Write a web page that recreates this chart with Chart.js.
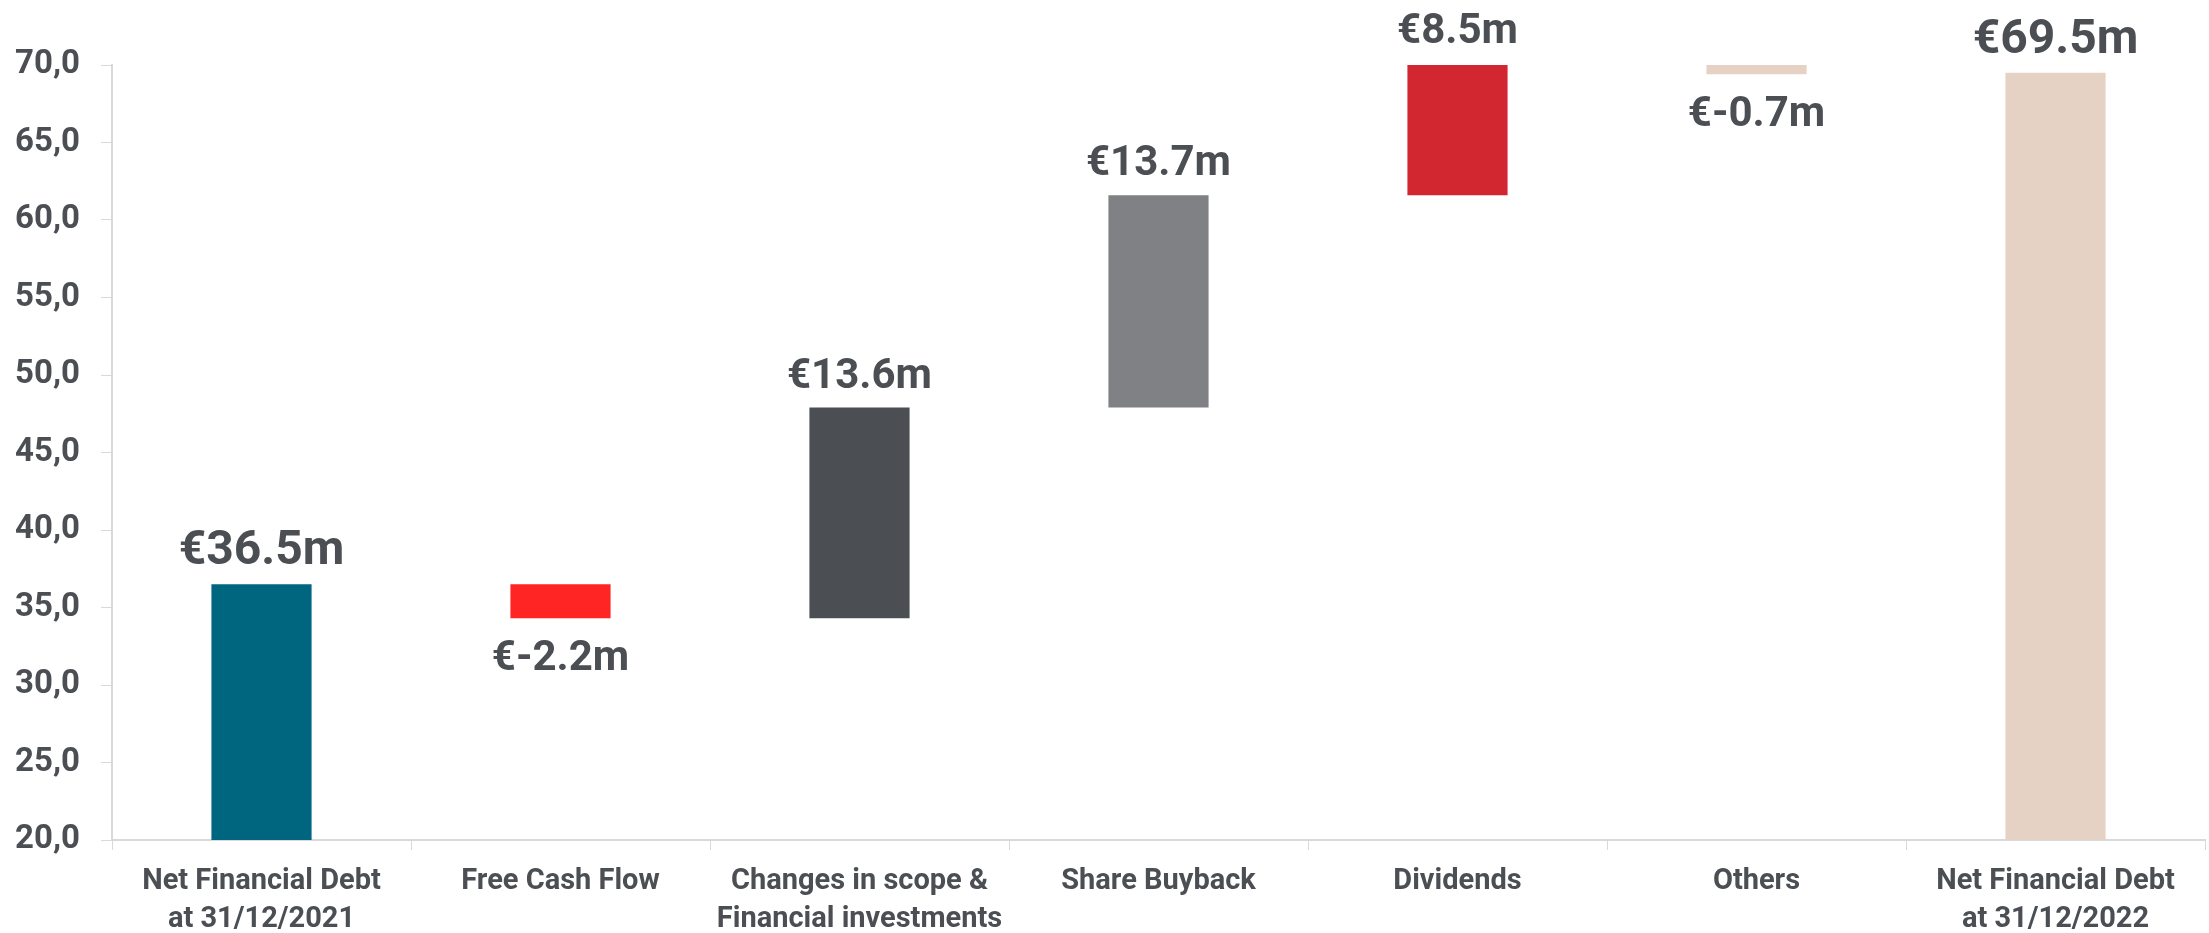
<!DOCTYPE html>
<html>
<head>
<meta charset="utf-8">
<script src="https://cdn.jsdelivr.net/npm/chart.js@4/dist/chart.umd.min.js"></script>
<style>
  html, body { margin: 0; padding: 0; background: #fff; }
  #wrap { width: 2209px; height: 933px; position: relative; }
</style>
</head>
<body>
<div id="wrap"><canvas id="bridge"></canvas></div>
<script>
// kategorier (x-axel)
const categories = [
  ["Net Financial Debt", "at 31/12/2021"],
  "Free Cash Flow",
  ["Changes in scope &", "Financial investments"],
  "Share Buyback",
  "Dividends",
  "Others",
  ["Net Financial Debt", "at 31/12/2022"]
];

// startvärde, förändringar och slutvärde (mEUR)
const openingDebt = 36.5;
const movements = [-2.2, 13.6, 13.7, 8.5, -0.7];
const closingDebt = 69.5;

// y-axelns gränser
const yMin = 20;
const yMax = 70;
const yStep = 5;

const barColors = ["#00657f", "#ff2525", "#4b4f54", "#808184", "#d22630", "#e6d2c4", "#e6d2c4"];
const textColor = "#4b4f54";
const lineColor = "#d9d9d9";

// bygg flytande staplar [låg, hög]
const bridge = () => {
  let out = [[yMin, openingDebt]];
  let level = openingDebt;
  movements.forEach((m) => {
    const next = Math.round((level + m) * 10) / 10;
    out.push([Math.min(level, next), Math.max(level, next)]);
    level = next;
  });
  out.push([yMin, closingDebt]);
  return out;
};

const labelValues = [openingDebt, ...movements, closingDebt];

// plugin som skriver "€xx.xm" över/under staplarna
const valueLabels = {
  id: "valueLabels",
  afterDatasetsDraw(chart) {
    const ctx = chart.ctx;
    const meta = chart.getDatasetMeta(0);
    const yScale = chart.scales.y;
    const last = labelValues.length - 1;
    ctx.save();
    ctx.fillStyle = textColor;
    ctx.textAlign = "center";
    ctx.textBaseline = "alphabetic";
    meta.data.forEach((bar, i) => {
      const v = labelValues[i];
      const isTotal = i === 0 || i === last;
      const size = isTotal ? 48 : 42;
      ctx.font = "bold " + size + "px Roboto";
      const range = chart.data.datasets[0].data[i];
      const text = "€" + v.toFixed(1) + "m";
      if (v >= 0) {
        const top = yScale.getPixelForValue(range[1]);
        ctx.fillText(text, bar.x, top - 20);
      } else {
        const bottom = yScale.getPixelForValue(range[0]);
        ctx.fillText(text, bar.x, bottom + 22 + size * 0.711);
      }
    });
    ctx.restore();
  }
};

const ctx = document.querySelector("#bridge").getContext("2d");

new Chart(ctx, {
  type: "bar",
  data: {
    labels: categories,
    datasets: [
      {
        data: bridge(),
        backgroundColor: barColors,
        borderWidth: 0,
        categoryPercentage: 1,
        barPercentage: 0.335,
      },
    ],
  },
  options: {
    responsive: true,
    maintainAspectRatio: false,
    animation: false,
    layout: { padding: { top: 65, right: 4, left: 0, bottom: 0 } },
    plugins: {
      legend: { display: false },
      tooltip: { enabled: false },
    },
    scales: {
      x: {
        offset: true,
        grid: {
          offset: true,
          drawOnChartArea: false,
          drawTicks: true,
          tickLength: 10,
          color: lineColor,
        },
        border: { color: lineColor, width: 2 },
        ticks: {
          color: textColor,
          padding: 13,
          font: { family: "Roboto", weight: "bold", size: 29, lineHeight: 1.3 },
          maxRotation: 0,
          autoSkip: false,
        },
        afterFit(scale) { scale.height = 93; },
      },
      y: {
        min: yMin,
        max: yMax,
        grid: {
          drawOnChartArea: false,
          drawTicks: true,
          tickLength: 11,
          color: lineColor,
        },
        border: { color: lineColor, width: 2 },
        ticks: {
          stepSize: yStep,
          color: textColor,
          padding: 21,
          font: { family: "Roboto", weight: "bold", size: 33 },
          callback: (value) => value.toFixed(1).replace(".", ","),
        },
        afterFit(scale) { scale.width = 112; },
      },
    },
  },
  plugins: [valueLabels],
});
</script>
</body>
</html>
